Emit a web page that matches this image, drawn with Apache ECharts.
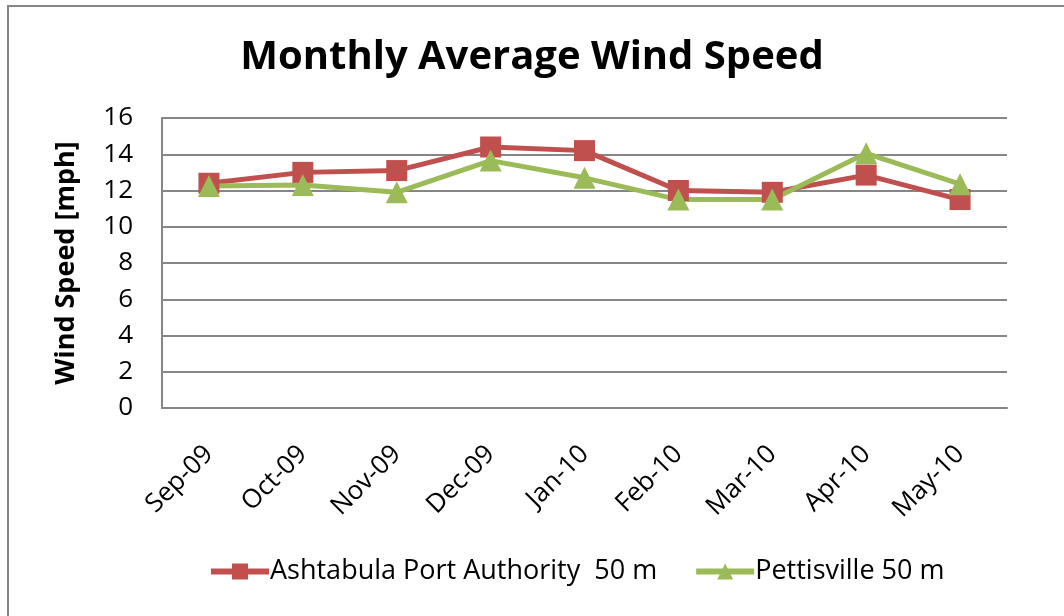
<!DOCTYPE html>
<html>
<head>
    <meta charset="utf-8">
    <title>Monthly Average Wind Speed</title>
    <script src="https://cdn.jsdelivr.net/npm/echarts@6/dist/echarts.min.js"></script>
    <style>
        html, body { margin: 0; padding: 0; background: #fff; }
        #main { width: 1064px; height: 616px; }
    </style>
</head>
<body>
<div id="main"></div>
<script>
    // data
    var months = ['Sep-09', 'Oct-09', 'Nov-09', 'Dec-09', 'Jan-10', 'Feb-10', 'Mar-10', 'Apr-10', 'May-10'];
    var ashtabula = [12.4, 13.0, 13.1, 14.4, 14.2, 12.0, 11.9, 12.85, 11.5];
    var pettisville = [12.25, 12.3, 11.9, 13.65, 12.7, 11.5, 11.5, 14.05, 12.35];
    var seriesNames = ['Ashtabula Port Authority  50 m', 'Pettisville 50 m'];

    var font = '"Open Sans", sans-serif';
    var myChart = echarts.init(document.getElementById('main'));

    var option = {
        backgroundColor: '#FFFFFF',
        animation: false,
        title: {
            text: 'Monthly Average Wind Speed',
            left: 'center',
            top: 33,
            textStyle: { fontFamily: font, fontSize: 40, fontWeight: 'bold', color: '#000' }
        },
        // chart frame (right and bottom edges run off the picture)
        graphic: [{
            type: 'rect',
            shape: { x: 8, y: 6, width: 1100, height: 700 },
            style: { fill: 'none', stroke: '#868686', lineWidth: 2 },
            silent: true
        }],
        grid: { left: 162, right: 57, top: 118, bottom: 208 },
        legend: {
            top: 553,
            left: 203,
            itemWidth: 58,
            itemHeight: 20,
            itemGap: 36,
            lineStyle: { width: 6 },
            textStyle: { fontFamily: font, fontSize: 27, color: '#000', padding: [0, 0, 0, -4] },
            data: seriesNames
        },
        xAxis: {
            type: 'category',
            data: months,
            boundaryGap: true,
            axisLine: { lineStyle: { color: '#868686', width: 2 } },
            axisTick: { show: false },
            axisLabel: {
                rotate: 45, fontFamily: font, fontSize: 26, color: '#000', margin: 42
            }
        },
        yAxis: {
            type: 'value',
            min: 0,
            max: 16,
            interval: 2,
            name: 'Wind Speed [mph]',
            nameLocation: 'middle',
            nameGap: 82,
            nameTextStyle: { fontFamily: font, fontSize: 27, fontWeight: 'bold', color: '#000' },
            axisLine: { show: true, lineStyle: { color: '#868686', width: 2 } },
            axisTick: { show: false },
            splitLine: { lineStyle: { color: '#868686', width: 2 } },
            axisLabel: { fontFamily: font, fontSize: 26, color: '#000', margin: 29 }
        },
        series: [{
            name: seriesNames[0],
            type: 'line',
            data: ashtabula,
            symbol: 'rect',
            symbolSize: 21,
            lineStyle: { color: '#C0504D', width: 5 },
            itemStyle: { color: '#C0504D' }
        }, {
            name: seriesNames[1],
            type: 'line',
            data: pettisville,
            symbol: 'triangle',
            symbolSize: 22,
            lineStyle: { color: '#9BBB59', width: 5 },
            itemStyle: { color: '#9BBB59' }
        }]
    };
    myChart.setOption(option);
</script>
</body>
</html>
